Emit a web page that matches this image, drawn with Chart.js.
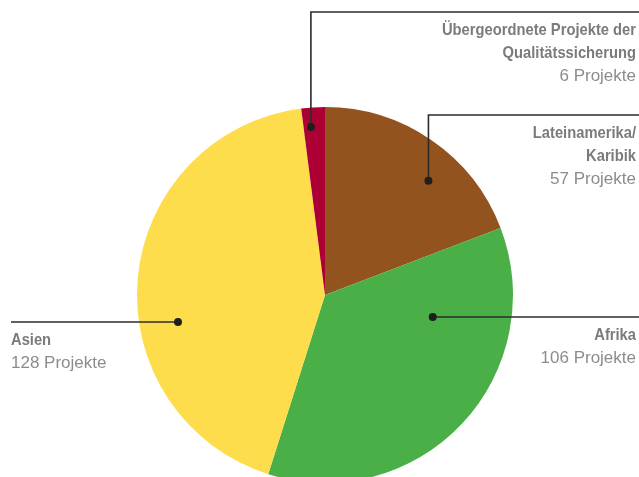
<!DOCTYPE html>
<html>
<head>
<meta charset="utf-8">
<script src="https://cdn.jsdelivr.net/npm/chart.js@4"></script>
<style>
html,body{margin:0;padding:0;background:#fff;overflow:hidden;}
#wrap{position:relative;width:639px;height:500px;}
</style>
</head>
<body>
<div id="wrap"><canvas id="c" width="639" height="500"></canvas></div>
<script>
const categories = ["Lateinamerika/\nKaribik", "Afrika", "Asien", "Übergeordnete Projekte der\nQualitätssicherung"];
const projectCounts = [57, 106, 128, 6];
const countLabels = ["57 Projekte", "106 Projekte", "128 Projekte", "6 Projekte"];
const sliceColors = ["#93531f", "#4aaf47", "#fddd4b", "#ac0035"];

// leader dot placement inside each slice: [fraction of slice angle, fraction of radius]
const dotPlacement = [[0.61, 0.82], [0.253, 0.585], [0.40, 0.795], [0.34, 0.897]];
// label layout: side, y of leader line, elbow (vertical) or straight
const labelLayout = [
  {side: "right", lineY: 115, elbow: true},
  {side: "right", lineY: 317, elbow: false},
  {side: "left",  lineY: 322, elbow: false},
  {side: "right", lineY: 12,  elbow: true}
];

const labelPlugin = {
  id: "leaderLabels",
  afterDatasetsDraw(chart) {
    const ctx = chart.ctx;
    const meta = chart.getDatasetMeta(0);
    const W = 639;
    meta.data.forEach((arc, i) => {
      const p = arc.getProps(["x", "y", "startAngle", "endAngle", "outerRadius"], true);
      const ang = p.startAngle + (p.endAngle - p.startAngle) * dotPlacement[i][0];
      const r = p.outerRadius * dotPlacement[i][1];
      const dx = p.x + Math.cos(ang) * r;
      const dy = p.y + Math.sin(ang) * r;
      const L = labelLayout[i];
      ctx.save();
      ctx.strokeStyle = "#2b2b2b";
      ctx.lineWidth = 1.6;
      ctx.beginPath();
      if (L.elbow) {
        ctx.moveTo(dx, dy);
        ctx.lineTo(dx, L.lineY);
        ctx.lineTo(W, L.lineY);
      } else if (L.side === "right") {
        ctx.moveTo(dx, L.lineY);
        ctx.lineTo(W, L.lineY);
      } else {
        ctx.moveTo(11, L.lineY);
        ctx.lineTo(dx, L.lineY);
      }
      ctx.stroke();
      ctx.fillStyle = "#1e1e1e";
      ctx.beginPath();
      ctx.arc(dx, L.elbow ? dy : L.lineY, 4, 0, Math.PI * 2);
      ctx.fill();

      const lines = categories[i].split("\n");
      const x = L.side === "right" ? 636 : 11;
      ctx.textAlign = L.side === "right" ? "right" : "left";
      ctx.textBaseline = "alphabetic";
      let y = L.lineY + 17 + 6;
      ctx.fillStyle = "#7b7b7b";
      ctx.font = "bold 16.5px 'Liberation Sans', Arial, sans-serif";
      lines.forEach(t => {
        ctx.save();
        ctx.translate(x, y);
        ctx.scale(0.893, 1);
        ctx.fillText(t, 0, 0);
        ctx.restore();
        y += 23;
      });
      ctx.fillStyle = "#8c8c8c";
      ctx.font = "17px 'Liberation Sans', Arial, sans-serif";
      ctx.fillText(countLabels[i], x, y);
      ctx.restore();
    });
  }
};

new Chart(document.getElementById("c"), {
  type: "pie",
  data: {
    labels: categories,
    datasets: [{
      data: projectCounts,
      backgroundColor: sliceColors,
      borderWidth: 0
    }]
  },
  options: {
    responsive: false,
    animation: false,
    layout: {padding: {left: 137, right: 126, top: 107, bottom: 17}},
    plugins: {legend: {display: false}, tooltip: {enabled: false}}
  },
  plugins: [labelPlugin]
});
</script>
</body>
</html>
